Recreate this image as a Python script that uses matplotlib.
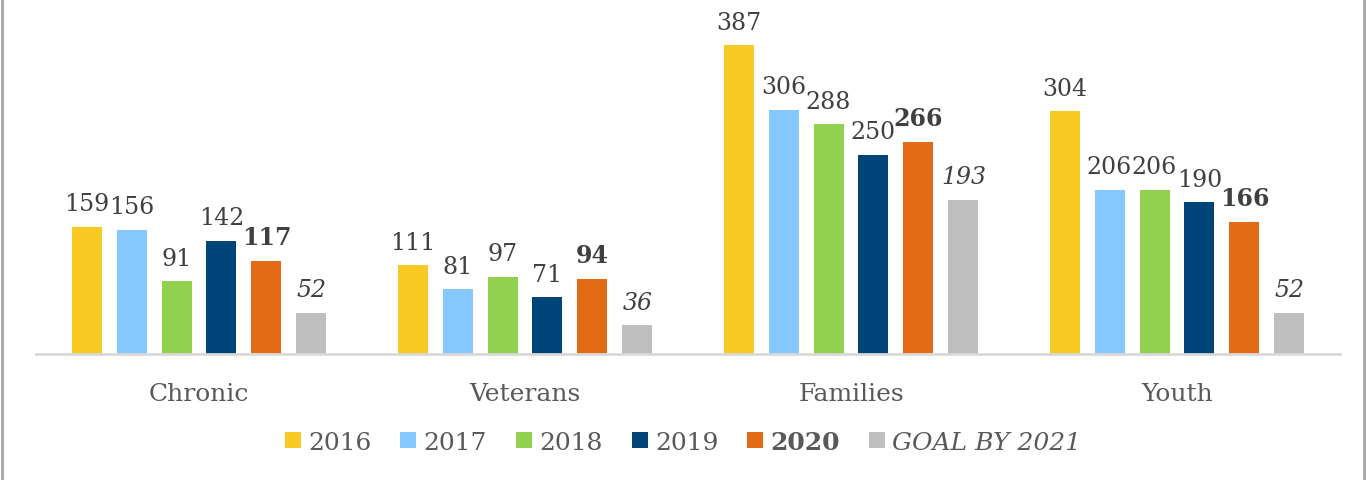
import matplotlib.pyplot as plt
from matplotlib.lines import Line2D
import numpy as np

plt.rcParams["font.family"] = ["DejaVu Serif"]

categories = ["Chronic", "Veterans", "Families", "Youth"]
series_names = ["2016", "2017", "2018", "2019", "2020", "GOAL BY 2021"]
values = {
    "2016": [159, 111, 387, 304],
    "2017": [156, 81, 306, 206],
    "2018": [91, 97, 288, 206],
    "2019": [142, 71, 250, 190],
    "2020": [117, 94, 266, 166],
    "GOAL BY 2021": [52, 36, 193, 52],
}
colors = ["#F9CA24", "#85C8FF", "#92D050", "#00457A", "#E46B16", "#BFBFBF"]

W, H = 1366, 481
fig = plt.figure(figsize=(W / 100, H / 100), dpi=100)

# plot area in pixels: x 36..1340, y 5..355
ax = fig.add_axes([36 / W, 1 - 355 / H, 1304 / W, 350 / H])

x = np.arange(len(categories))
pitch = 0.138
width = 0.092

for i, name in enumerate(series_names):
    offs = (i - 2.5) * pitch
    bars = ax.bar(x + offs, values[name], width, color=colors[i],
                  label=name, zorder=2)
    weight = "bold" if name == "2020" else "normal"
    style = "italic" if name.startswith("GOAL") else "normal"
    for b, v in zip(bars, values[name]):
        ax.annotate(str(v), (b.get_x() + b.get_width() / 2, v),
                    xytext=(0, 12), textcoords="offset points",
                    ha="center", va="baseline", fontsize=17,
                    color="#404040", fontweight=weight, fontstyle=style)

ax.set_xlim(-0.5, 3.5)
ax.set_ylim(0, 438.6)
ax.set_yticks([])
ax.set_xticks(x)
ax.set_xticklabels(categories, fontsize=18, color="#595959")
ax.tick_params(axis="x", length=0, pad=20)

for s in ["top", "right", "left"]:
    ax.spines[s].set_visible(False)
ax.spines["bottom"].set_color("#D9D9D9")
ax.spines["bottom"].set_linewidth(2)

leg = fig.legend(loc="center", bbox_to_anchor=(0.5, 1 - 443 / H), ncol=6,
                 frameon=False, fontsize=18, handlelength=0.64,
                 handleheight=0.64, handletextpad=0.3, columnspacing=1.15)
for t in leg.get_texts():
    t.set_color("#595959")
    if t.get_text() == "2020":
        t.set_fontweight("bold")
    if t.get_text().startswith("GOAL"):
        t.set_fontstyle("italic")

# thin grey frame on the left and right edges
fig.add_artist(Line2D([2 / W, 2 / W], [0, 1], color="#A6A6A6", linewidth=2))
fig.add_artist(Line2D([1364 / W, 1364 / W], [0, 1], color="#A6A6A6", linewidth=2))

fig.savefig("out.png", dpi=100)
plt.close()
